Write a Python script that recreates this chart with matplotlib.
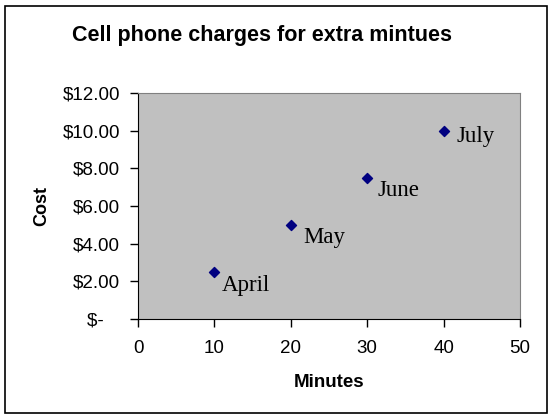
import matplotlib
matplotlib.use("Agg")
import matplotlib.pyplot as plt
from matplotlib.ticker import FuncFormatter, MultipleLocator
from matplotlib.patches import Rectangle

# data
months = ["April", "May", "June", "July"]
minutes = [10, 20, 30, 40]
cost = [2.50, 5.00, 7.50, 10.00]

# label nudges in pixels, as placed in the original
label_dx = [7, 12, 10, 13]
label_dy = [-3, -2, -2, 5]

plt.rcParams['font.family'] = ['Liberation Sans', 'DejaVu Sans']

fig = plt.figure(figsize=(5.52, 4.19), dpi=100)
fig.patches.append(Rectangle((5 / 552, 6 / 419), 542 / 552, 407 / 419,
                             transform=fig.transFigure, fill=False,
                             edgecolor='black', linewidth=1.2))

ax = fig.add_axes([138 / 552, 1 - 319 / 419, 382 / 552, 226 / 419])
ax.set_facecolor('#C0C0C0')

ax.scatter(minutes, cost, marker='D', s=26, color='#000080', zorder=3)
for m, x, y, dx, dy in zip(months, minutes, cost, label_dx, label_dy):
    ax.annotate(m, (x, y), xytext=(dx, dy), textcoords='offset pixels',
                ha='left', va='top', fontsize=16.5, family='Liberation Serif')

ax.set_xlim(0, 50)
ax.set_ylim(0, 12)
ax.xaxis.set_major_locator(MultipleLocator(10))
ax.yaxis.set_major_locator(MultipleLocator(2))


def money(v, pos):
    if abs(v) < 1e-9:
        return "$-   "
    return "${:.2f}".format(v)


ax.yaxis.set_major_formatter(FuncFormatter(money))

for side in ['top', 'right']:
    ax.spines[side].set_color('#808080')
for side in ['left', 'bottom']:
    ax.spines[side].set_color('black')
ax.tick_params(direction='out', length=6, width=1, labelsize=13.5)
ax.tick_params(axis='y', pad=7)
ax.tick_params(axis='x', pad=9)

fig.text(262 / 552, 1 - 35 / 419, "Cell phone charges for extra mintues",
         fontsize=15.5, fontweight='bold', ha='center', va='center')
ax.set_xlabel("Minutes", fontsize=13.5, fontweight='bold', labelpad=12)
ax.set_ylabel("Cost", fontsize=13, fontweight='bold', labelpad=9)

fig.savefig("out.png", dpi=100)
